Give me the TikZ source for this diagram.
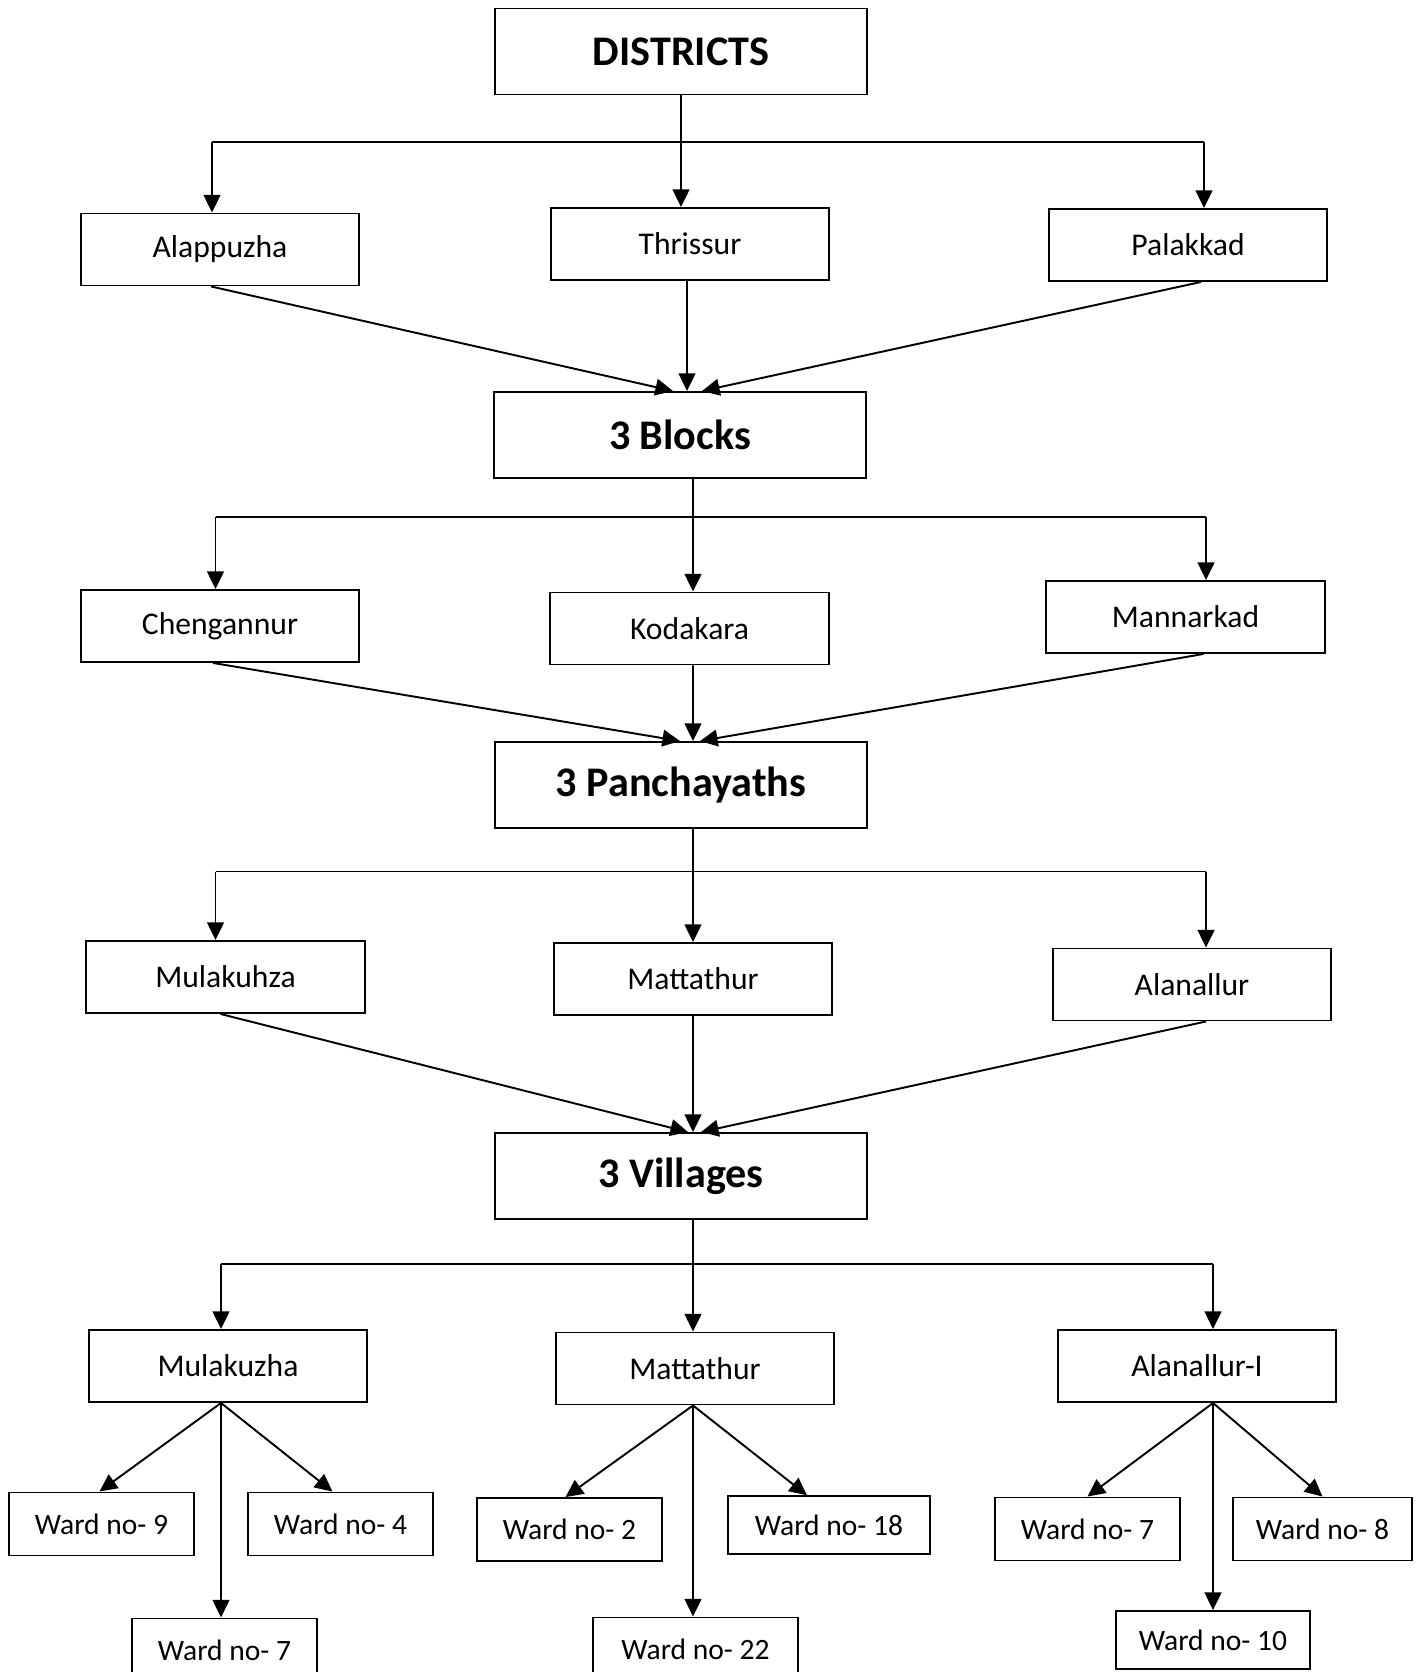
\documentclass[tikz,border=0pt]{standalone}
\usepackage{fontspec}
\setmainfont{Carlito}
\usepackage{tikz}
\usetikzlibrary{positioning, arrows.meta, calc}

\begin{document}
\begin{tikzpicture}[x=0.02cm, y=-0.02cm, line width=1.1pt,
    >={Triangle[length=10pt, width=9.5pt]},
    every node/.style={font=\fontsize{18}{22}\selectfont},
    levelbox/.style={draw, line width=1.1pt, minimum width=7.44cm, minimum height=1.72cm, font=\fontsize{24}{29}\selectfont\bfseries},
    placebox/.style={draw, line width=1.1pt, minimum width=5.57cm, minimum height=1.44cm},
    wardbox/.style={draw, line width=1.1pt, minimum width=3.7cm, minimum height=1.26cm, font=\fontsize{16.8}{20}\selectfont}]
        \useasboundingbox (0,0) rectangle (1426,1672);

        % Levels
        \node (districts) [levelbox] at (681,51.5) {DISTRICTS};
        \node (blocks) [levelbox] at (680,435) {3 Blocks};
        \node (panch) [levelbox] at (681,785) {3 Panchayaths};
        \node (villages) [levelbox] at (681,1176) {3 Villages};

        % Districts
        \node (alappuzha) [placebox] at (220,249.5) {Alappuzha};
        \node (thrissur) [placebox] at (690,244) {Thrissur};
        \node (palakkad) [placebox] at (1188,245) {Palakkad};

        % Blocks
        \node (chengannur) [placebox] at (220,626) {Chengannur};
        \node (kodakara) [placebox] at (689.5,628.5) {Kodakara};
        \node (mannarkad) [placebox] at (1185.5,617) {Mannarkad};

        % Panchayaths
        \node (mulakuhza) [placebox] at (225.5,977) {Mulakuhza};
        \node (mattathurp) [placebox] at (693,979) {Mattathur};
        \node (alanallur) [placebox] at (1192,984.5) {Alanallur};

        % Villages
        \node (mulakuzha) [placebox] at (228,1366) {Mulakuzha};
        \node (mattathurv) [placebox] at (695,1368.5) {Mattathur};
        \node (alanallurv) [placebox] at (1197,1366) {Alanallur-I};

        % Wards
        \node (wnine) [wardbox] at (101.5,1524) {Ward no- 9};
        \node (wfour) [wardbox] at (340.5,1524) {Ward no- 4};
        \node (wseven) [wardbox] at (224.5,1650) {Ward no- 7};
        \node (wtwo) [wardbox] at (569.5,1529.5) {Ward no- 2};
        \node (weighteen) [wardbox, minimum width=4.03cm, minimum height=1.15cm] at (829,1525) {Ward no- 18};
        \node (wtwentytwo) [wardbox, minimum width=4.1cm] at (695.5,1649) {Ward no- 22};
        \node (wsevenb) [wardbox] at (1087.5,1529) {Ward no- 7};
        \node (weight) [wardbox, minimum width=3.58cm] at (1322.5,1529) {Ward no- 8};
        \node (wten) [wardbox, minimum width=3.88cm, minimum height=1.16cm] at (1213,1640) {Ward no- 10};

        % Junctions
        \coordinate (jal) at (212,142);
        \coordinate (jar) at (1204,142);
        \coordinate (jbl) at (215.5,517);
        \coordinate (jbr) at (1206,517);
        \coordinate (jcl) at (215.5,871.5);
        \coordinate (jcr) at (1206,871.5);
        \coordinate (jdl) at (221,1264);
        \coordinate (jdr) at (1213,1264);
        \coordinate (sb) at ($(blocks.south)+(13,0)$);
        \coordinate (sp) at ($(panch.south)+(12,0)$);
        \coordinate (sv) at ($(villages.south)+(12,0)$);
        \coordinate (fa) at ($(mulakuzha.south)+(-7,0)$);
        \coordinate (fb) at ($(mattathurv.south)+(-2,0)$);
        \coordinate (fc) at ($(alanallurv.south)+(16,0)$);

        % Districts split
        \draw [->] (districts.south) -- (districts.south |- thrissur.north);
        \draw (jal) -- (jar);
        \draw [->] (jal) -- (jal |- alappuzha.north);
        \draw [->] (jar) -- (jar |- palakkad.north);

        % Districts to blocks
        \draw [->] ($(alappuzha.south)+(-9,0)$) -- ($(blocks.north)+(-7,0)$);
        \draw [->] ($(thrissur.south)+(-3,0)$) -- ($(blocks.north)+(7,0)$);
        \draw [->] ($(palakkad.south)+(13,0)$) -- ($(blocks.north)+(22,0)$);

        % Blocks split
        \draw [->] (sb) -- (sb |- kodakara.north);
        \draw (jbl) -- (jbr);
        \draw [->] (jbl) -- (jbl |- chengannur.north);
        \draw [->] (jbr) -- (jbr |- mannarkad.north);

        % Blocks to panchayaths
        \draw [->] ($(chengannur.south)+(-7,0)$) -- ($(panch.north)+(-1,0)$);
        \draw [->] ($(kodakara.south)+(3.5,0)$) -- ($(panch.north)+(12,0)$);
        \draw [->] ($(mannarkad.south)+(18,0)$) -- ($(panch.north)+(19,0)$);

        % Panchayaths split
        \draw [->] (sp) -- (sp |- mattathurp.north);
        \draw (jcl) -- (jcr);
        \draw [->] (jcl) -- (jcl |- mulakuhza.north);
        \draw [->] (jcr) -- (jcr |- alanallur.north);

        % Panchayaths to villages
        \draw [->] ($(mulakuhza.south)+(-5,0)$) -- ($(villages.north)+(7,0)$);
        \draw [->] (mattathurp.south) -- (mattathurp.south |- villages.north);
        \draw [->] ($(alanallur.south)+(14,0)$) -- ($(villages.north)+(20,0)$);

        % Villages split
        \draw [->] (sv) -- (sv |- mattathurv.north);
        \draw (jdl) -- (jdr);
        \draw [->] (jdl) -- (jdl |- mulakuzha.north);
        \draw [->] (jdr) -- (jdr |- alanallurv.north);

        % Villages to wards
        \draw [->] (fa) -- ($(wnine.north)+(-2,0)$);
        \draw [->] (fa) -- ($(wfour.north)+(-8,0)$);
        \draw [->] (fa) -- (fa |- wseven.north);
        \draw [->] (fb) -- ($(wtwo.north)+(-4,0)$);
        \draw [->] (fb) -- ($(weighteen.north)+(-22,0)$);
        \draw [->] (fb) -- (fb |- wtwentytwo.north);
        \draw [->] (fc) -- (wsevenb.north);
        \draw [->] (fc) -- (weight.north);
        \draw [->] (fc) -- (fc |- wten.north);
    \end{tikzpicture}
\end{document}
